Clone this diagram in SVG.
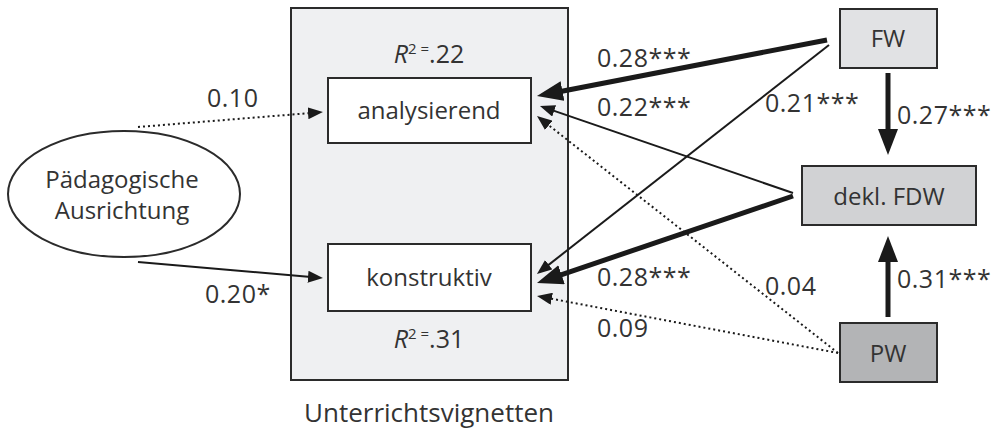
<svg xmlns="http://www.w3.org/2000/svg" width="997" height="431" viewBox="0 0 997 431">
<style>
text{font-family:"Open Sans","Noto Sans","Liberation Sans",sans-serif;font-size:24px;fill:#333333}
.c{text-anchor:middle}
.lab{font-size:25px;letter-spacing:0.5px}
.big{font-size:26px}
.r2{font-size:25px}
.box{stroke:#2b2b2b;stroke-width:2}
.thin{stroke:#1a1a1a;stroke-width:2;fill:none}
.thick{stroke:#1a1a1a;stroke-width:5;fill:none}
.dot{stroke:#1a1a1a;stroke-width:2;fill:none;stroke-dasharray:2 3}
</style>
<defs>
<marker id="ah" markerUnits="userSpaceOnUse" markerWidth="16" markerHeight="12" refX="3" refY="6" orient="auto"><path d="M0,0 L15,6 L0,12 z" fill="#1a1a1a"/></marker>
<marker id="ahT" markerUnits="userSpaceOnUse" markerWidth="27" markerHeight="20" refX="6" refY="10" orient="auto"><path d="M0,0 L26,10 L0,20 z" fill="#1a1a1a"/></marker>
</defs>
<rect x="291" y="8" width="277" height="372" fill="#eff0f2" class="box"/>
<text x="429" y="422" class="c big">Unterrichtsvignetten</text>
<g id="r2a"><text x="429" y="63" class="c r2"><tspan font-style="italic">R</tspan><tspan font-size="15" dy="-9">2 =</tspan><tspan dy="9">.22</tspan></text></g>
<g id="r2k"><text x="429" y="348" class="c r2"><tspan font-style="italic">R</tspan><tspan font-size="15" dy="-9">2 =</tspan><tspan dy="9">.31</tspan></text></g>
<g id="analysierend"><rect x="328" y="78" width="203" height="65" fill="#fff" class="box"/><text x="429" y="119" class="c">analysierend</text></g>
<g id="konstruktiv"><rect x="328" y="244" width="203" height="67" fill="#fff" class="box"/><text x="429" y="286" class="c">konstruktiv</text></g>
<g id="paed"><ellipse cx="124" cy="194" rx="116" ry="63" fill="#fff" class="box"/><text x="122" y="188" class="c">Pädagogische</text><text x="122" y="219" class="c">Ausrichtung</text></g>
<g id="FW"><rect x="840" y="9" width="97" height="59" fill="#e1e2e4" class="box"/><text x="888" y="47" class="c">FW</text></g>
<g id="FDW"><rect x="802" y="166" width="174" height="59" fill="#d1d2d4" class="box"/><text x="889" y="205" class="c">dekl. FDW</text></g>
<g id="PW"><rect x="840" y="323" width="97" height="59" fill="#b3b4b6" class="box"/><text x="888" y="362" class="c">PW</text></g>
<g id="connectors">
<line x1="138" y1="127" x2="311" y2="113" class="dot" marker-end="url(#ah)"/>
<line x1="138" y1="262" x2="311" y2="277" class="thin" marker-end="url(#ah)"/>
<line x1="827" y1="40" x2="556.6" y2="92.2" class="thick" marker-end="url(#ahT)"/>
<line x1="793" y1="196" x2="555.9" y2="276.6" class="thick" marker-end="url(#ahT)"/>
<line x1="888" y1="73" x2="888" y2="135" class="thick" marker-end="url(#ahT)"/>
<line x1="888" y1="317" x2="888" y2="256" class="thick" marker-end="url(#ahT)"/>
<line x1="793" y1="193" x2="551.3" y2="109.9" class="thin" marker-end="url(#ah)"/>
<line x1="829" y1="45" x2="546.4" y2="266.6" class="thin" marker-end="url(#ah)"/>
<line x1="838" y1="353" x2="546.4" y2="123.4" class="dot" marker-end="url(#ah)"/>
<line x1="838" y1="353" x2="548.8" y2="298.2" class="dot" marker-end="url(#ah)"/>
</g>
<g id="labels">
<text class="lab" x="207" y="107">0.10</text>
<text class="lab" x="205" y="303">0.20*</text>
<text class="lab" x="597" y="67">0.28***</text>
<text class="lab" x="597" y="116">0.22***</text>
<text class="lab" x="765" y="112">0.21***</text>
<text class="lab" x="897" y="124">0.27***</text>
<text class="lab" x="597" y="286">0.28***</text>
<text class="lab" x="765" y="295">0.04</text>
<text class="lab" x="597" y="337">0.09</text>
<text class="lab" x="897" y="288">0.31***</text>
</g>
</svg>
